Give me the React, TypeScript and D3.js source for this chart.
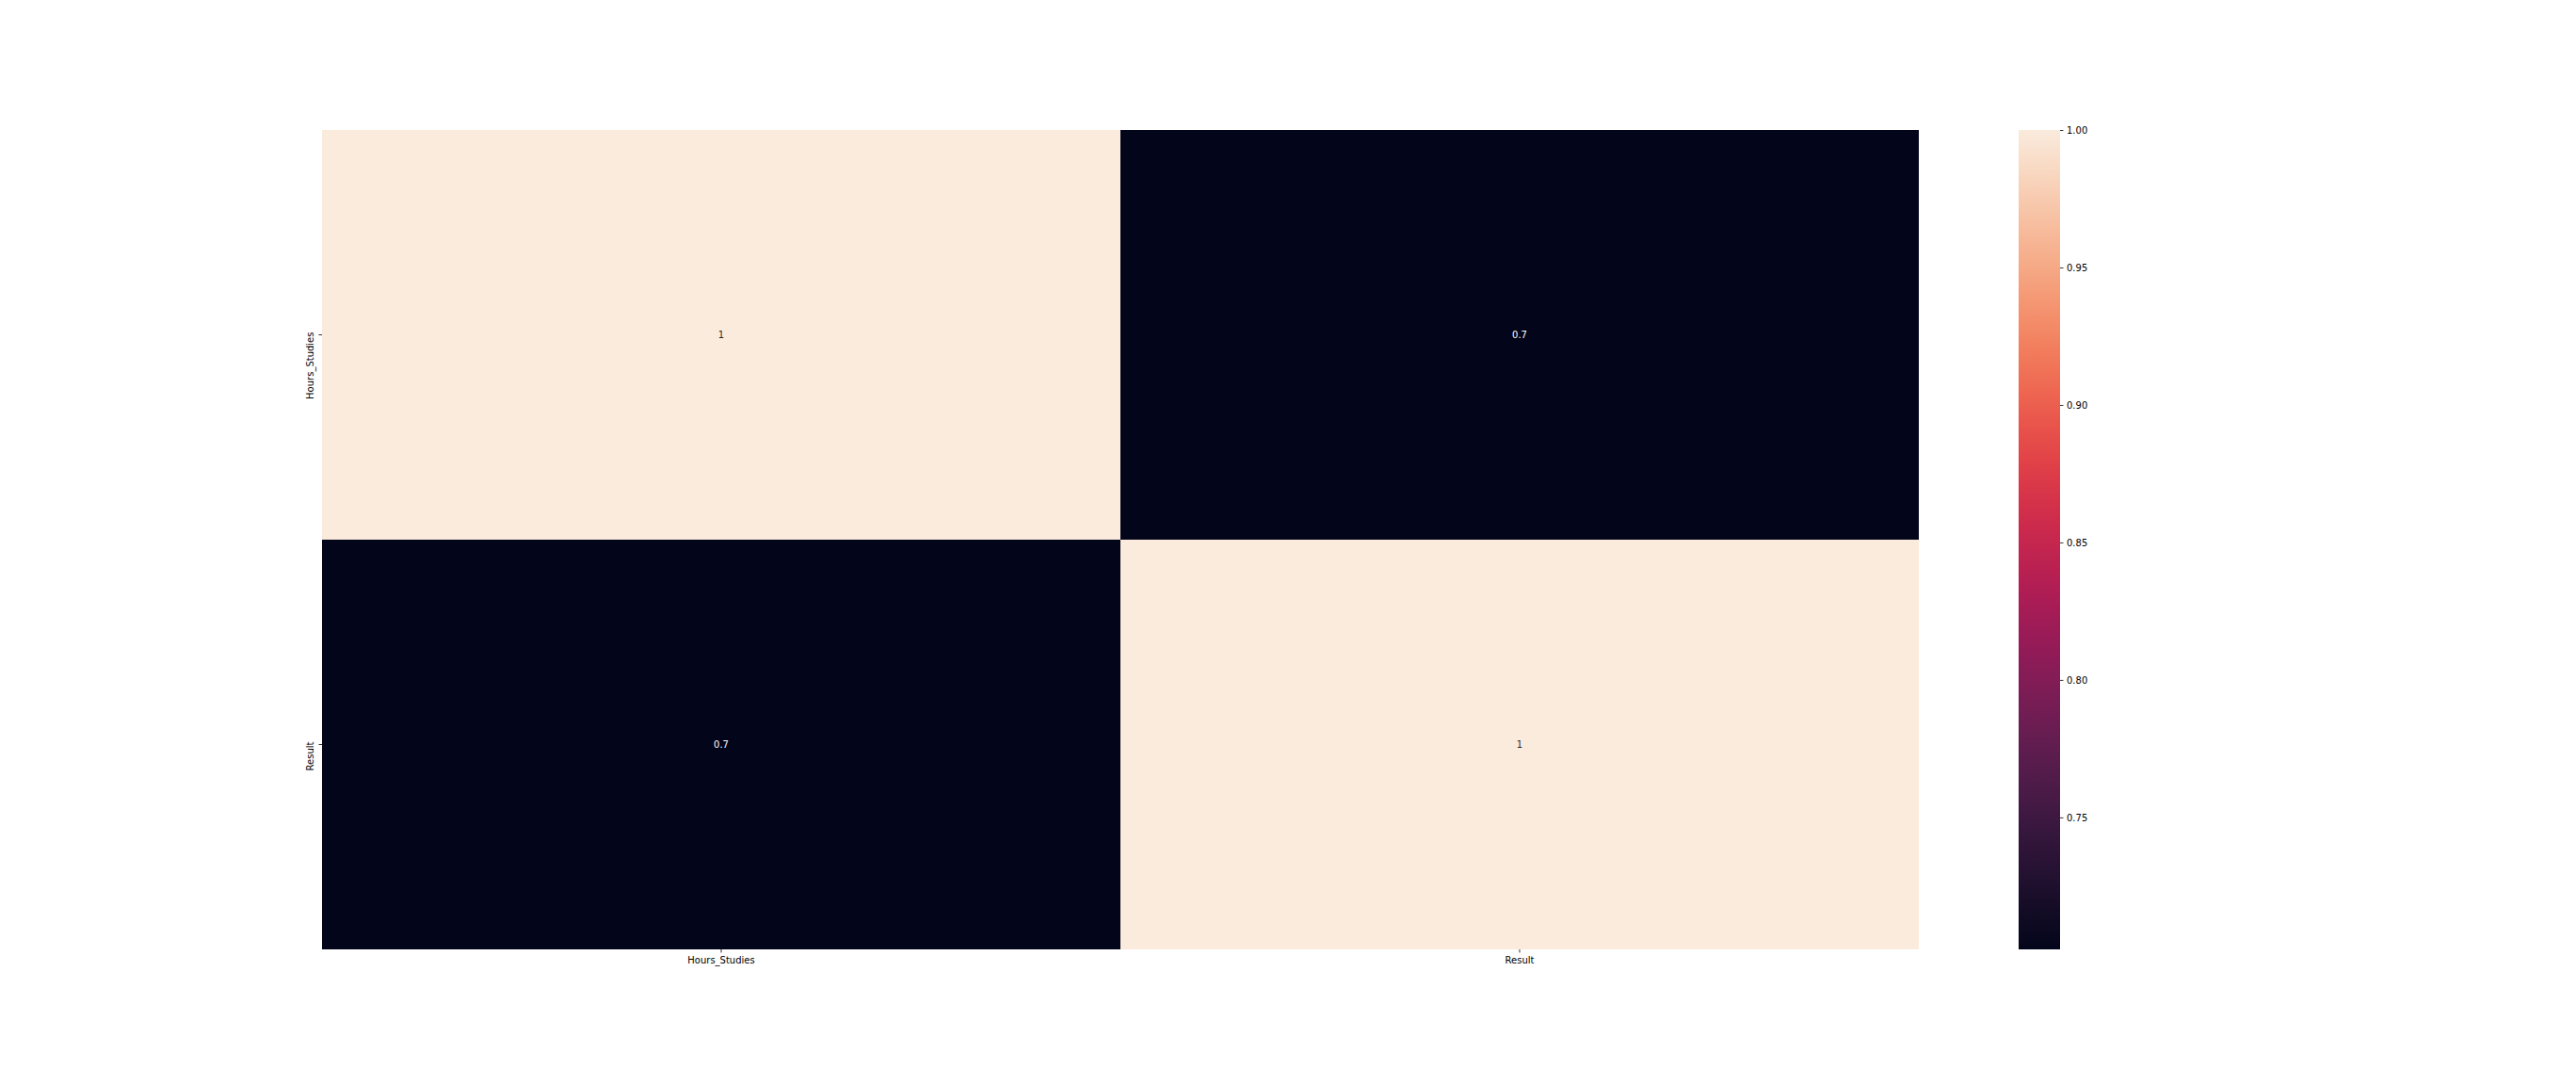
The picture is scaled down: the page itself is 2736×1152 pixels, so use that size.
import { useEffect, useRef } from "react";
import * as d3 from "d3";

// Datos de la matriz de correlación
const etiquetas = ["Hours_Studies", "Result"];
const filaHours = [1, 0.702];
const filaResult = [0.702, 1];
const ticksBarra = [0.75, 0.8, 0.85, 0.9, 0.95, 1.0];

// Paleta "rocket" (seaborn) aproximada
const rocketStops = ["#03051a", "#35193e", "#701f57", "#ad1759", "#e13342", "#f37651", "#f6b48f", "#faebdd"];

const W = 2736;
const H = 1152;

const Heatmap = () => {
  const ref = useRef<SVGSVGElement | null>(null);

  useEffect(() => {
    if (!ref.current) return;
    const svg = d3.select(ref.current);
    svg.selectAll("*").remove();

    const matriz = [filaHours, filaResult];
    const celdas = matriz.flatMap((fila, i) =>
      fila.map((v, j) => ({ fila: etiquetas[i], col: etiquetas[j], valor: v }))
    );

    const margin = { left: 342, top: 138, right: 2038, bottom: 1008 };
    const x = d3.scaleBand().domain(etiquetas).range([margin.left, margin.right]);
    const y = d3.scaleBand().domain(etiquetas).range([margin.top, margin.bottom]);

    const vmin = d3.min(celdas, (d) => d.valor) as number;
    const vmax = d3.max(celdas, (d) => d.valor) as number;
    const rocket = d3.interpolateRgbBasis(rocketStops);
    const color = d3.scaleSequential(rocket).domain([vmin, vmax]);

    const font = "DejaVu Sans, sans-serif";

    // Celdas
    svg.append("g")
      .selectAll("rect")
      .data(celdas)
      .enter()
      .append("rect")
      .attr("x", (d) => x(d.col)!)
      .attr("y", (d) => y(d.fila)!)
      .attr("width", x.bandwidth())
      .attr("height", y.bandwidth())
      .attr("fill", (d) => color(d.valor))
      .attr("shape-rendering", "crispEdges");

    // Anotaciones
    const fmt = d3.format(".2~g");
    svg.append("g")
      .selectAll("text")
      .data(celdas)
      .enter()
      .append("text")
      .attr("x", (d) => x(d.col)! + x.bandwidth() / 2)
      .attr("y", (d) => y(d.fila)! + y.bandwidth() / 2)
      .attr("text-anchor", "middle")
      .attr("dominant-baseline", "central")
      .style("font-family", font)
      .style("font-size", "10px")
      .style("fill", (d) => ((d.valor - vmin) / (vmax - vmin) > 0.5 ? "#262626" : "#ffffff"))
      .text((d) => fmt(d.valor));

    // Eje X
    const xAxis = svg.append("g")
      .attr("transform", `translate(0,${margin.bottom})`)
      .call(d3.axisBottom(x).tickSize(3.5).tickPadding(4).tickSizeOuter(0));
    xAxis.select(".domain").remove();
    xAxis.selectAll("line").attr("stroke", "#000").attr("stroke-width", 0.8);
    xAxis.selectAll("text")
      .style("font-family", font)
      .style("font-size", "10px")
      .attr("fill", "#000");

    // Eje Y (etiquetas rotadas, terminan a la altura del tick)
    const yAxis = svg.append("g")
      .attr("transform", `translate(${margin.left},0)`)
      .call(d3.axisLeft(y).tickSize(3.5).tickSizeOuter(0));
    yAxis.select(".domain").remove();
    yAxis.selectAll("line").attr("stroke", "#000").attr("stroke-width", 0.8);
    yAxis.selectAll("text")
      .attr("x", 0)
      .attr("dy", 0)
      .attr("transform", "translate(-9,-3) rotate(-90)")
      .attr("text-anchor", "end")
      .style("font-family", font)
      .style("font-size", "10px")
      .attr("fill", "#000");

    // Barra de color
    const barra = { x0: 2144, x1: 2188 };
    const yc = d3.scaleLinear().domain([vmin, vmax]).range([margin.bottom, margin.top]);
    const defs = svg.append("defs");
    const grad = defs.append("linearGradient")
      .attr("id", "rocketGrad")
      .attr("x1", "0%").attr("y1", "100%")
      .attr("x2", "0%").attr("y2", "0%");
    d3.range(0, 1.0001, 0.02).forEach((t) => {
      grad.append("stop")
        .attr("offset", `${t * 100}%`)
        .attr("stop-color", rocket(t));
    });
    svg.append("rect")
      .attr("x", barra.x0)
      .attr("y", margin.top)
      .attr("width", barra.x1 - barra.x0)
      .attr("height", margin.bottom - margin.top)
      .attr("fill", "url(#rocketGrad)");

    const cAxis = svg.append("g")
      .attr("transform", `translate(${barra.x1},0)`)
      .call(d3.axisRight(yc).tickValues(ticksBarra).tickFormat(d3.format(".2f")).tickSize(3.5).tickPadding(3.5));
    cAxis.select(".domain").remove();
    cAxis.selectAll("line").attr("stroke", "#000").attr("stroke-width", 0.8);
    cAxis.selectAll("text")
      .style("font-family", font)
      .style("font-size", "10px")
      .attr("fill", "#000");
  }, []);

  return <svg ref={ref} width={W} height={H} style={{ display: "block", background: "#fff" }} />;
};

export default function App() {
  return (
    <div style={{ position: "absolute", left: 0, top: 0, width: W, height: H, background: "#fff" }}>
      <Heatmap />
    </div>
  );
}
